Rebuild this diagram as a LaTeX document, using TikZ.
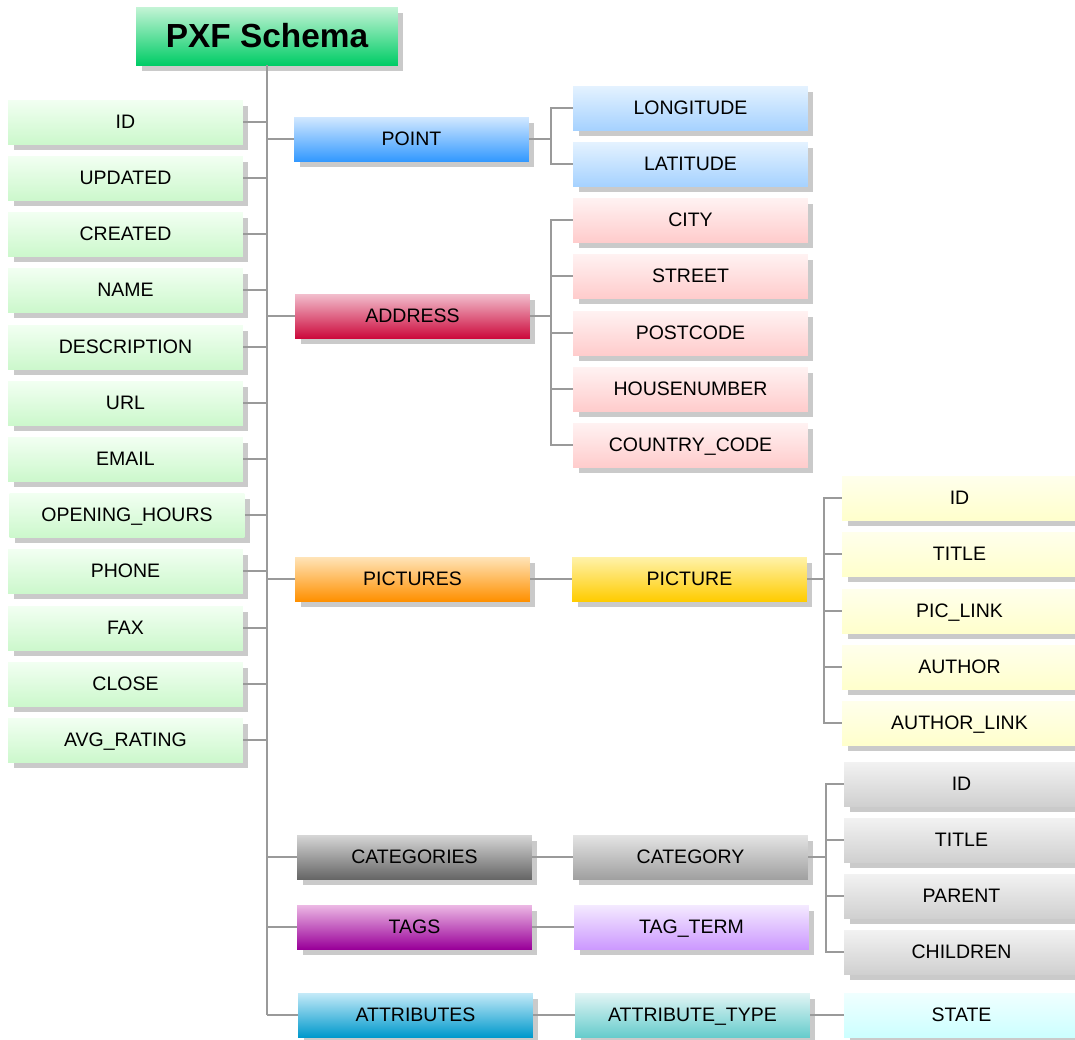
\documentclass[tikz,border=0pt]{standalone}
\usepackage{fontspec}
\setmainfont{Liberation Sans}
\usetikzlibrary{shadows}
\definecolor{conn}{HTML}{9A9A9A}
\definecolor{shd}{HTML}{CACACA}
\tikzset{
  x=0.02cm, y=-0.02cm,
  box/.style={minimum width=4.7cm, minimum height=0.88cm, inner sep=0pt, draw=none,
    font=\fontsize{11.1}{13}\selectfont, text height=9.8pt, text depth=1.9pt,
    general shadow={fill=shd, shadow xshift=0.11cm, shadow yshift=-0.11cm}},
  field/.style={box, top color={rgb,255:red,242;green,255;blue,242}, bottom color={rgb,255:red,204;green,248;blue,204}},
  link/.style={draw=conn, line width=1.6pt},
}
\tikzset{
  pointc/.style={box, top color={rgb,255:red,210;green,232;blue,255}, bottom color={rgb,255:red,51;green,153;blue,255}},
  pointch/.style={box, top color={rgb,255:red,228;green,242;blue,255}, bottom color={rgb,255:red,166;green,210;blue,255}},
  addrc/.style={box, top color={rgb,255:red,242;green,190;blue,205}, bottom color={rgb,255:red,204;green,10;blue,60}},
  addrch/.style={box, top color={rgb,255:red,255;green,242;blue,242}, bottom color={rgb,255:red,255;green,204;blue,204}},
  picsc/.style={box, top color={rgb,255:red,255;green,228;blue,184}, bottom color={rgb,255:red,255;green,144;blue,0}},
  picc/.style={box, top color={rgb,255:red,255;green,242;blue,170}, bottom color={rgb,255:red,255;green,204;blue,0}},
  picch/.style={box, top color={rgb,255:red,255;green,255;blue,236}, bottom color={rgb,255:red,255;green,255;blue,204}},
  catsc/.style={box, top color={rgb,255:red,214;green,214;blue,214}, bottom color={rgb,255:red,102;green,102;blue,102}},
  catc/.style={box, top color={rgb,255:red,228;green,228;blue,228}, bottom color={rgb,255:red,160;green,160;blue,160}},
  catch/.style={box, top color={rgb,255:red,242;green,242;blue,242}, bottom color={rgb,255:red,208;green,208;blue,208}},
  tagsc/.style={box, top color={rgb,255:red,236;green,184;blue,228}, bottom color={rgb,255:red,153;green,0;blue,153}},
  tagc/.style={box, top color={rgb,255:red,244;green,234;blue,255}, bottom color={rgb,255:red,204;green,153;blue,255}},
  attsc/.style={box, top color={rgb,255:red,196;green,234;blue,248}, bottom color={rgb,255:red,0;green,153;blue,204}},
  attc/.style={box, top color={rgb,255:red,226;green,245;blue,245}, bottom color={rgb,255:red,102;green,204;blue,204}},
  attch/.style={box, top color={rgb,255:red,240;green,255;blue,255}, bottom color={rgb,255:red,204;green,255;blue,255}},
}
\begin{document}
\begin{tikzpicture}
\useasboundingbox (0,0) rectangle (1075,1039);
% root
\node[box, minimum width=5.24cm, minimum height=1.16cm,
  top color={rgb,255:red,196;green,244;blue,214}, bottom color={rgb,255:red,0;green,204;blue,102},
  font=\fontsize{19}{22}\selectfont\bfseries, text height=17.1pt, text depth=3.5pt] (root) at (267,36) {PXF Schema};
% left fields
\node[field] (f1) at (125.5,122) {ID};
\node[field] (f2) at (125.5,178) {UPDATED};
\node[field] (f3) at (125.5,234) {CREATED};
\node[field] (f4) at (125.5,290) {NAME};
\node[field] (f5) at (125.5,347) {DESCRIPTION};
\node[field] (f6) at (125.5,403) {URL};
\node[field] (f7) at (125.5,459) {EMAIL};
\node[field] (f8) at (127,515) {OPENING\_HOURS};
\node[field] (f9) at (125.5,571) {PHONE};
\node[field] (f10) at (125.5,628) {FAX};
\node[field] (f11) at (125.5,684) {CLOSE};
\node[field] (f12) at (125.5,740) {AVG\_RATING};
% middle column
\node[pointc] (point) at (411.5,139) {POINT};
\node[addrc] (addr) at (412.5,316) {ADDRESS};
\node[picsc] (pics) at (412.5,579) {PICTURES};
\node[catsc] (cats) at (414.5,857) {CATEGORIES};
\node[tagsc] (tags) at (414.5,927) {TAGS};
\node[attsc] (atts) at (415.5,1015) {ATTRIBUTES};
% third column
\node[pointch] (lon) at (690.5,108) {LONGITUDE};
\node[pointch] (lat) at (690.5,164) {LATITUDE};
\node[addrch] (city) at (690.5,220) {CITY};
\node[addrch] (street) at (690.5,276) {STREET};
\node[addrch] (post) at (690.5,333) {POSTCODE};
\node[addrch] (house) at (690.5,389) {HOUSENUMBER};
\node[addrch] (country) at (690.5,445) {COUNTRY\_CODE};
\node[picc] (pic) at (689.5,579) {PICTURE};
\node[catc] (cat) at (690.5,857) {CATEGORY};
\node[tagc] (tag) at (691.5,927) {TAG\_TERM};
\node[attc] (att) at (692.5,1015) {ATTRIBUTE\_TYPE};
% fourth column
\node[picch] (pid) at (959.5,498) {ID};
\node[picch] (ptitle) at (959.5,554) {TITLE};
\node[picch] (plink) at (959.5,611) {PIC\_LINK};
\node[picch] (pauthor) at (959.5,667) {AUTHOR};
\node[picch] (palink) at (959.5,723) {AUTHOR\_LINK};
\node[catch] (cid) at (961.5,784) {ID};
\node[catch] (ctitle) at (961.5,840) {TITLE};
\node[catch] (cparent) at (961.5,896) {PARENT};
\node[catch] (cchild) at (961.5,952) {CHILDREN};
\node[attch] (state) at (961.5,1015) {STATE};
% trunk
\draw[link] (root.south) -- (root.south |- atts.west);
\foreach \n in {f1,f2,f3,f4,f5,f6,f7,f8,f9,f10,f11,f12}
  \draw[link] (\n.east) -- (\n.east -| root.south);
\foreach \n in {point,addr,pics,cats,tags}
  \draw[link] (root.south |- \n.west) -- (\n.west);
\draw[link] (root.south |- atts.west) -- (atts.west);
% brackets
\coordinate (bp) at (551,139);
\draw[link] (point.east) -- (bp);
\draw[link] (lon.west) -| (bp);
\draw[link] (lat.west) -| (bp);
\coordinate (ba) at (551,316);
\draw[link] (addr.east) -- (ba);
\foreach \n in {city,street,post,house,country}
  \draw[link] (\n.west) -| (ba);
\draw[link] (pics.east) -- (pic.west);
\coordinate (bc) at (824,579);
\draw[link] (pic.east) -- (bc);
\foreach \n in {pid,ptitle,plink,pauthor,palink}
  \draw[link] (\n.west) -| (bc);
\draw[link] (cats.east) -- (cat.west);
\coordinate (bk) at (826,857);
\draw[link] (cat.east) -- (bk);
\foreach \n in {cid,ctitle,cparent,cchild}
  \draw[link] (\n.west) -| (bk);
\draw[link] (tags.east) -- (tag.west);
\draw[link] (atts.east) -- (att.west);
\draw[link] (att.east) -- (state.west);
\end{tikzpicture}
\end{document}
